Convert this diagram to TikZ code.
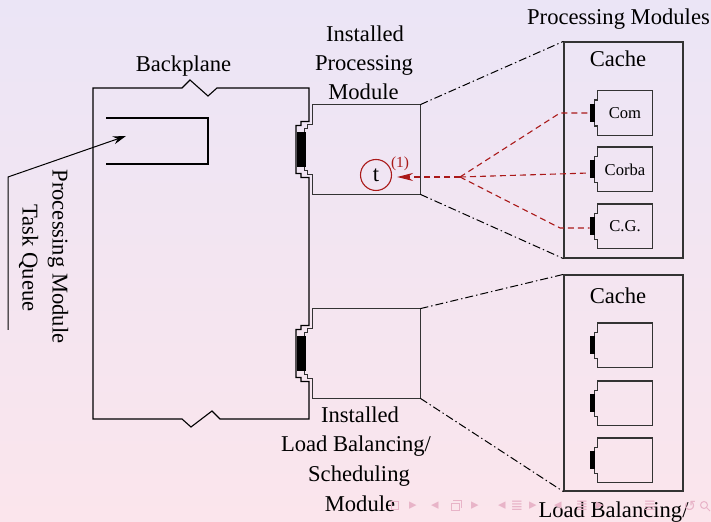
\documentclass[tikz,border=0pt]{standalone}
\usepackage{fontspec}
\setmainfont{Liberation Serif}
\newfontfamily\symfont{DejaVu Sans}
\usetikzlibrary{arrows.meta}

\definecolor{bgtop}{RGB}{235,229,246}
\definecolor{bgbottom}{RGB}{251,229,236}
\definecolor{linkred}{RGB}{170,25,25}
\definecolor{navpink}{RGB}{232,180,200}

\begin{document}
\begin{tikzpicture}[x=0.5pt,y=-0.5pt,
  every node/.style={font=\fontsize{11.3}{14.75}\selectfont, inner sep=0pt},
  lbl/.style={anchor=base},
  frame/.style={draw=black!80, line width=0.6pt},
  hull/.style={line width=0.55pt},
  card/.style={minimum width=53.5pt, minimum height=44.5pt},
  cachebox/.style={draw=black!80, line width=0.6pt, minimum width=59.5pt, minimum height=108pt},
  unit/.style={minimum width=27pt, minimum height=22pt, font=\fontsize{8.3}{10}\selectfont},
  zoomline/.style={line width=0.5pt, dash pattern=on 4pt off 1.5pt on 0.7pt off 1.5pt},
  link/.style={draw=linkred, line width=0.55pt, dash pattern=on 3pt off 2pt},
  nav/.style={text=navpink, font=\symfont\fontsize{7.5}{7.5}\selectfont},
  navline/.style={draw=navpink, line width=0.5pt}
]
\useasboundingbox (0,0) rectangle (711,522);
\shade[top color=bgtop, bottom color=bgbottom] (0,0) rectangle (711,522);

% backplane hull with its two sockets on the right side
\draw[hull] (93,88) -- (182,88) -- (190,80) -- (208,96) -- (217,88) -- (309,88)
  -- (309,121.5) -- (301,121.5) -- (301,125.5) -- (296,125.5) -- (296,173.5) -- (301,173.5) -- (301,177.5) -- (309,177.5)
  -- (309,325.5) -- (301,325.5) -- (301,329.5) -- (296,329.5) -- (296,377.5) -- (301,377.5) -- (301,381.5) -- (309,381.5)
  -- (309,419) -- (220,419) -- (212,411) -- (191,427) -- (182,419) -- (93,419) -- cycle;
\node[lbl] (bpl) at (183.5,72) {Backplane};

% task queue
\draw[hull] (106,118) -- (208,118) -- (208,164) -- (106,164);
\coordinate (qin) at (126,136);
\coordinate (qfoot) at (8,330);
\coordinate (qbend) at (8,177);
\draw[line width=0.5pt, -{Stealth[length=6.5pt,width=4pt]}] (qfoot) -- (qbend) -- (qin);
\node[lbl, rotate=-90] (tq1) at (52.5,256.5) {Processing Module};
\node[lbl, rotate=-90] (tq2) at (22.5,258) {Task Queue};

% installed modules
\node[card] (pm) at (366.5,149.5) {};
\node[card] (lb) at (366.5,353.5) {};
\foreach \m in {pm,lb}{
  \draw[frame] (\m.north east) -- (\m.north west) -- ([yshift=12.5pt]\m.west) -- ++(-5,0) -- ++(0,4)
    -- ++(-3,0) -- ++(0,42) -- ++(3,0) -- ++(0,4) -- ++(5,0) -- (\m.south west) -- (\m.south east) -- cycle;
  \fill ([xshift=-8pt,yshift=8.75pt]\m.west) rectangle ([xshift=-3.5pt,yshift=-8.75pt]\m.west);
}
\node[lbl] (pml1) at (365,42) {Installed};
\node[lbl] (pml2) at (364,71) {Processing};
\node[lbl] (pml3) at (363.5,100) {Module};
\node[lbl] (lbl1) at (360,423) {Installed};
\node[lbl] (lbl2) at (356,452) {Load Balancing/};
\node[lbl] (lbl3) at (359,482) {Scheduling};
\node[lbl] (lbl4) at (360,512) {Module};

% caches
\node[cachebox] (cache1) at (623.5,150) {};
\node[cachebox] (cache2) at (623.5,383) {};
\node[lbl] (ct1) at (618,67) {Cache};
\node[lbl] (ct2) at (618,304) {Cache};
\node[lbl] (pmt) at (618.5,25) {Processing Modules};
\node[lbl] (lbt) at (613.5,517) {Load Balancing/};

\foreach \n/\y/\t in {c1/113/Com, c2/169.5/Corba, c3/226.5/C.G., d1/345.5/, d2/403.5/, d3/460.5/}{
  \node[unit] (\n) at (625,\y) {\t};
  \draw[frame] (\n.north east) -- (\n.north west) -- ([yshift=6.5pt]\n.west) -- ++(-3,0) -- ++(0,26)
    -- ++(3,0) -- (\n.south west) -- (\n.south east) -- cycle;
  \fill ([xshift=-4pt,yshift=4.5pt]\n.west) rectangle ([xshift=-1.5pt,yshift=-4.5pt]\n.west);
}

% zoom lines from installed modules to caches
\draw[zoomline] (pm.north east) -- (cache1.north west);
\draw[zoomline] (pm.south east) -- (cache1.south west);
\draw[zoomline] (lb.north east) -- (cache2.north west);
\draw[zoomline] (lb.south east) -- (cache2.south west);

% task t and its links to the cached modules
\node[circle, draw=linkred, line width=0.55pt, minimum size=15.5pt] (t) at (376,175) {t};
\node[lbl, text=linkred, font=\fontsize{7.7}{9}\selectfont] (tn) at (400,168) {(1)};
\coordinate (hub) at (460,177);
\coordinate (k1) at (560,113);
\coordinate (k3) at (560,228);
\draw[link] (hub) -- (k1) -- ([xshift=-4pt]c1.west);
\draw[link] (hub) -- ([xshift=-4pt,yshift=-1.75pt]c2.west);
\draw[link] (hub) -- (k3) -- ([xshift=-4pt,yshift=-0.75pt]c3.west);
\draw[link, -{Stealth[length=8pt,width=4pt]}, shorten >=2.5pt] (hub) -- (t.east |- hub);

% navigation bar
\draw[navline] (391,502) rectangle (398,510);
\node[nav] (n1) at (413,506) {▸};
\node[nav] (n2) at (435,506) {◂};
\draw[navline] (451,504) rectangle (459,511);
\draw[navline] (453,501) -- (461,501) -- (461,508);
\node[nav] (n3) at (475,506) {▸};
\node[nav] (n4) at (502,506) {◂};
\node[nav] (n5) at (517,506) {≣};
\node[nav] (n6) at (533,506) {▸};
\node[nav] (n7) at (558,506) {◂};
\node[nav] (n8) at (582,506) {≣};
\node[nav] (n9) at (600,506) {▸};
\node[nav] (n10) at (650,506) {≣};
\node[nav] (n11) at (690,506) {↺};
\draw[navline] (704,505) circle (3.5);
\draw[navline] (706.5,507.5) -- (710,511);
\end{tikzpicture}
\end{document}
